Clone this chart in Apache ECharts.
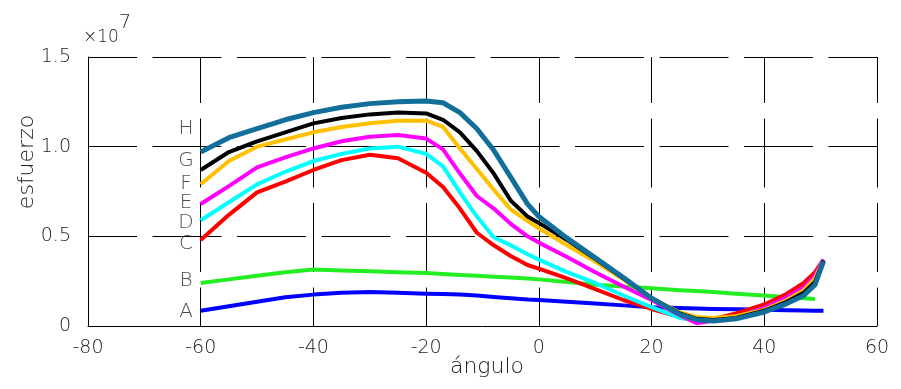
<!DOCTYPE html>
<html><head><meta charset="utf-8">
<script src="https://cdn.jsdelivr.net/npm/echarts@6/dist/echarts.min.js"></script>
<style>html,body{margin:0;padding:0;background:#fff}#c{width:901px;height:389px}</style>
</head><body><div id="c"></div>
<script>
// ---- data (stress values in units of 10^7) ----
const angles = [-60, -55, -50, -45, -40, -35, -30, -25, -20, -17, -14, -11, -8, -5, -2, 0, 5, 10, 15, 20, 25, 28, 31, 35, 40, 44, 47, 49, 50.5];
const seriesNames = ['A', 'B', 'C', 'D', 'E', 'F', 'G', 'H'];
const valuesA = [0.085, 0.11, 0.135, 0.16, 0.175, 0.185, 0.19, 0.185, 0.18, 0.178, 0.175, 0.17, 0.162, 0.155, 0.148, 0.145, 0.135, 0.125, 0.115, 0.105, 0.1, 0.097, 0.095, 0.093, 0.09, 0.088, 0.086, 0.085, 0.085];
const valuesB = [0.24, 0.26, 0.28, 0.30, 0.315, 0.31, 0.305, 0.30, 0.295, 0.29, 0.285, 0.28, 0.275, 0.27, 0.265, 0.26, 0.245, 0.23, 0.22, 0.21, 0.2, 0.195, 0.19, 0.18, 0.17, 0.16, 0.155, 0.15, null];
const valuesC = [0.48, 0.62, 0.745, 0.805, 0.87, 0.925, 0.955, 0.935, 0.855, 0.775, 0.655, 0.52, 0.45, 0.39, 0.34, 0.32, 0.265, 0.205, 0.145, 0.095, 0.05, 0.04, 0.04, 0.07, 0.12, 0.18, 0.24, 0.30, 0.37];
const valuesD = [0.59, 0.69, 0.79, 0.86, 0.92, 0.96, 0.99, 1.0, 0.96, 0.89, 0.745, 0.61, 0.495, 0.45, 0.40, 0.37, 0.30, 0.24, 0.17, 0.105, 0.045, 0.03, 0.03, 0.05, 0.10, 0.155, 0.21, 0.275, 0.37];
const valuesE = [0.68, 0.78, 0.885, 0.94, 0.99, 1.03, 1.055, 1.065, 1.045, 0.985, 0.85, 0.725, 0.655, 0.57, 0.50, 0.465, 0.385, 0.30, 0.22, 0.145, 0.06, 0.015, 0.03, 0.05, 0.10, 0.16, 0.215, 0.28, 0.37];
const valuesF = [0.79, 0.92, 1.0, 1.04, 1.08, 1.11, 1.13, 1.145, 1.145, 1.11, 0.99, 0.875, 0.76, 0.65, 0.585, 0.545, 0.45, 0.36, 0.26, 0.155, 0.075, 0.05, 0.045, 0.055, 0.09, 0.145, 0.2, 0.265, 0.365];
const valuesG = [0.87, 0.97, 1.03, 1.08, 1.13, 1.16, 1.18, 1.19, 1.185, 1.15, 1.08, 0.975, 0.85, 0.70, 0.61, 0.575, 0.48, 0.375, 0.265, 0.155, 0.07, 0.04, 0.033, 0.045, 0.085, 0.135, 0.185, 0.245, 0.365];
const valuesH = [0.97, 1.05, 1.10, 1.15, 1.19, 1.22, 1.24, 1.25, 1.255, 1.245, 1.19, 1.10, 0.98, 0.83, 0.68, 0.61, 0.49, 0.38, 0.27, 0.155, 0.065, 0.035, 0.028, 0.04, 0.078, 0.125, 0.17, 0.23, 0.36];
const seriesColors = ['#0000ff', '#22ee22', '#ff0000', '#00ffff', '#ff00ff', '#ffc000', '#000000', '#126f9a'];
// curve name labels (angle, value)
const labelAngles = [-62.6, -62.6, -62.6, -62.6, -62.6, -62.6, -62.6, -62.6];
const labelValues = [0.078, 0.25, 0.461, 0.578, 0.689, 0.794, 0.922, 1.10];
const xTicks = [-80, -60, -40, -20, 0, 20, 40, 60];
const xTickLabels = ['-80', '-60', '-40', '-20', '0', '20', '40', '60'];
const yTicks = [0, 0.5, 1.0, 1.5];
const yTickLabels = ['0', '0.5', '1.0', '1.5'];

const allValues = [valuesA, valuesB, valuesC, valuesD, valuesE, valuesF, valuesG, valuesH];
const FONT = "'DejaVu Sans', sans-serif";
const TXT = '#222';
const chart = echarts.init(document.getElementById('c'), null, {renderer: 'canvas'});

const lineSeries = allValues.map((vals, i) => ({
  name: seriesNames[i],
  type: 'line',
  symbol: 'none',
  z: 2 + i * 0.01,
  lineStyle: {color: seriesColors[i], width: i === 7 ? 5 : 4, join: 'round'},
  data: angles.map((a, k) => [a, vals[k]]).filter(p => p[1] !== null)
}));

const labelSeries = {
  type: 'scatter',
  symbolSize: 0,
  silent: true,
  z: 5,
  label: {show: true, position: 'inside', formatter: p => p.data[2], color: TXT, fontSize: 20, fontFamily: FONT, fontWeight: 200},
  data: seriesNames.map((n, i) => [labelAngles[i], labelValues[i], n])
};

chart.setOption({
  animation: false,
  backgroundColor: '#fff',
  grid: {left: 88, top: 57, width: 789, height: 269, containLabel: false},
  xAxis: {
    type: 'value', min: xTicks[0], max: xTicks[xTicks.length - 1], interval: 20,
    axisLine: {show: true, onZero: false, lineStyle: {color: '#000', width: 1}},
    axisTick: {show: false},
    axisLabel: {color: TXT, fontSize: 19, fontFamily: FONT, fontWeight: 200, margin: 13,
      formatter: v => xTickLabels[xTicks.indexOf(v)] ?? ''},
    splitLine: {show: true, lineStyle: {color: '#000', width: 1, type: [69, 15.5], dashOffset: 23}}
  },
  yAxis: {
    type: 'value', min: 0, max: 1.5, interval: 0.5,
    axisLine: {show: true, onZero: false, lineStyle: {color: '#000', width: 1}},
    axisTick: {show: false},
    axisLabel: {color: TXT, fontSize: 19, fontFamily: FONT, fontWeight: 200, margin: 17,
      formatter: v => yTickLabels[yTicks.findIndex(t => Math.abs(t - v) < 1e-9)] ?? ''},
    splitLine: {show: true, lineStyle: {color: '#000', width: 1, type: [69, 15.5], dashOffset: 20}}
  },
  graphic: [
    {type: 'text', left: 83, top: 29, style: {text: '×10', fontSize: 17, fontFamily: FONT, fontWeight: 200, fill: TXT}},
    {type: 'text', left: 119, top: 14, style: {text: '7', fontSize: 19, fontFamily: FONT, fontWeight: 200, fill: TXT}},
    {type: 'text', x: 27, y: 162, rotation: Math.PI / 2, style: {text: 'esfuerzo', fontSize: 22, fontFamily: FONT, fontWeight: 200, fill: TXT, align: 'center', verticalAlign: 'middle'}},
    {type: 'text', x: 487, y: 367, style: {text: 'ángulo', fontSize: 22, fontFamily: FONT, fontWeight: 200, fill: TXT, align: 'center', verticalAlign: 'middle'}}
  ],
  series: lineSeries.concat([labelSeries])
});
</script>
</body></html>
